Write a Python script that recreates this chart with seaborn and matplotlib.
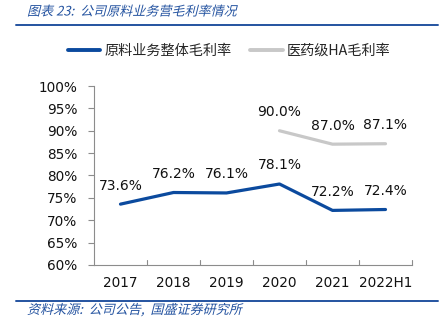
import matplotlib
matplotlib.use("Agg")
import matplotlib.pyplot as plt
import seaborn as sns
import pandas as pd
from matplotlib.patheffects import AbstractPathEffect
from matplotlib.transforms import Affine2D
from matplotlib.lines import Line2D

categories = ["2017", "2018", "2019", "2020", "2021", "2022H1"]
raw_margin = [73.6, 76.2, 76.1, 78.1, 72.2, 72.4]
ha_categories = ["2020", "2021", "2022H1"]
ha_margin = [90.0, 87.0, 87.1]
y_ticks = [60, 65, 70, 75, 80, 85, 90, 95, 100]
series_names = ["原料业务整体毛利率", "医药级HA毛利率"]
title_text = "图表 23:  公司原料业务营毛利率情况"
source_text = "资料来源:  公司公告,  国盛证券研究所"

sns.set_theme(style="white")
plt.rcParams['font.family'] = ['DejaVu Sans', 'Noto Sans CJK SC']

BLUE = "#0B4A9E"
GRAY = "#C8C8C8"
TBLUE = "#2453A0"
AX = "#8C8C8C"

class Slant(AbstractPathEffect):
    def draw_path(self, renderer, gc, tpath, affine, rgbFace=None):
        renderer.draw_path(gc, tpath, Affine2D().skew_deg(14, 0) + affine, rgbFace)

fig = plt.figure(figsize=(4.42, 3.33), dpi=100)
W, H = 442, 333
ax = fig.add_axes([94 / W, (H - 265) / H, (412 - 94) / W, (265 - 86) / H])

df1 = pd.DataFrame({"cat": categories, "val": raw_margin})
xpos = {c: i for i, c in enumerate(categories)}
df1["x"] = [xpos[c] for c in df1["cat"]]
df2 = pd.DataFrame({"cat": ha_categories, "val": ha_margin})
df2["x"] = [xpos[c] for c in df2["cat"]]

sns.lineplot(data=df1, x="x", y="val", ax=ax, color=BLUE, linewidth=2.3, legend=False)
sns.lineplot(data=df2, x="x", y="val", ax=ax, color=GRAY, linewidth=2.3, legend=False)

for d in (df1, df2):
    for x, v in zip(d["x"], d["val"]):
        ax.text(x, v + 2.6, f"{v:.1f}%", ha="center", va="bottom", fontsize=10, color="#111111")

ax.set_xlim(-0.5, len(categories) - 0.5)
ax.set_ylim(60, 100)
ax.set_yticks(y_ticks)
ax.set_yticklabels([f"{t}%" for t in y_ticks], fontsize=9.8, color="#111111")
ax.set_xticks(range(len(categories)))
ax.set_xticklabels(categories, fontsize=9.8, color="#111111")
ax.tick_params(axis="x", length=0, pad=8)
ax.tick_params(axis="y", length=4, color=AX, direction="out", width=0.8, pad=8, left=True)
for b in [i + 0.5 for i in range(len(categories))]:
    ax.plot([b, b], [0, 5 / 179], transform=ax.get_xaxis_transform(), color=AX, lw=0.8, clip_on=False)
ax.set_xlabel("")
ax.set_ylabel("")
for s in ["top", "right"]:
    ax.spines[s].set_visible(False)
for s in ["left", "bottom"]:
    ax.spines[s].set_color(AX)
    ax.spines[s].set_linewidth(0.8)
ax.grid(False)

handles = [Line2D([], [], color=BLUE, lw=2.8), Line2D([], [], color=GRAY, lw=2.8)]
fig.legend(handles, series_names, loc="center", bbox_to_anchor=(229 / W, 1 - 51 / H), ncol=2,
           frameon=False, handlelength=2.3, handletextpad=0.3, columnspacing=1.3,
           prop={"family": ["Noto Sans CJK SC", "DejaVu Sans"], "size": 10.2})

fig.text(27 / W, 1 - 12 / H, title_text, ha="left", va="center", fontsize=9.4, color=TBLUE,
         family=["Noto Sans CJK SC", "DejaVu Sans"], path_effects=[Slant()])
fig.text(27 / W, 1 - 310 / H, source_text, ha="left", va="center", fontsize=9.4, color=TBLUE,
         family=["Noto Sans CJK SC", "DejaVu Sans"], path_effects=[Slant()])
fig.add_artist(Line2D([16 / W, 438 / W], [1 - 25 / H, 1 - 25 / H], color=TBLUE, lw=1.4))
fig.add_artist(Line2D([16 / W, 438 / W], [1 - 301 / H, 1 - 301 / H], color=TBLUE, lw=1.4))

fig.savefig("out.png", dpi=100)
